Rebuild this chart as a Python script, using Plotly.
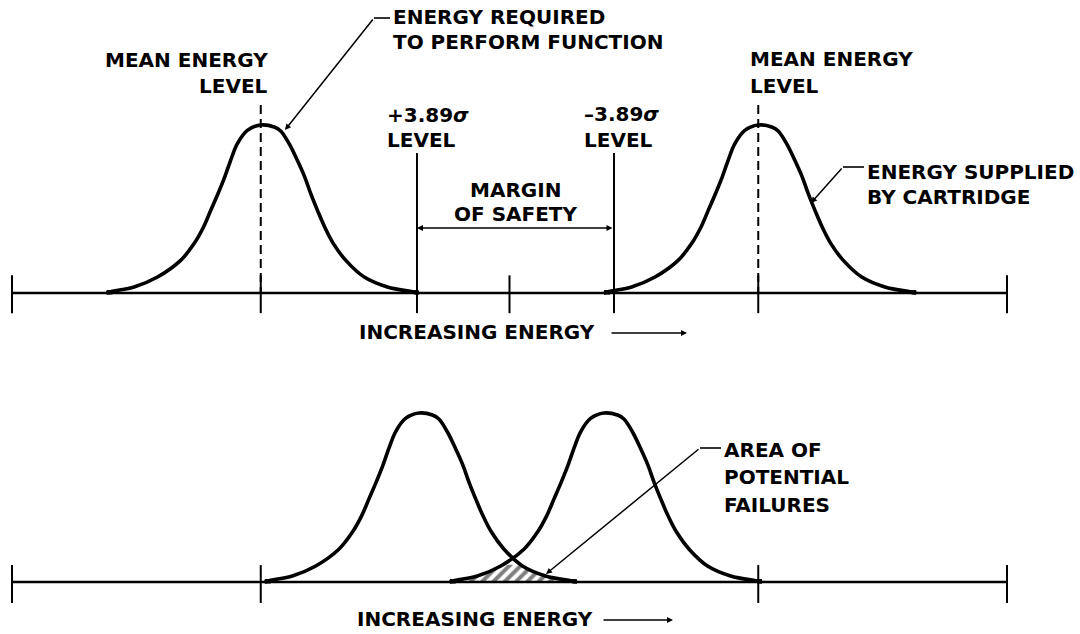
import plotly.graph_objects as go

W, H = 1080, 634

# ---------------- data ----------------
# common bell-curve outline (offset from mean in energy units, relative height)
SHAPE_OFFSET = [-0.62, -0.596, -0.509, -0.415, -0.322, -0.268, -0.230, -0.201, -0.172,
                -0.145, -0.121, -0.094, -0.054, 0.0, 0.054, 0.080, 0.114, 0.147, 0.177,
                0.201, 0.228, 0.257, 0.292, 0.342, 0.416, 0.509, 0.616, 0.635]
SHAPE_HEIGHT = [0.0, 0.010, 0.036, 0.095, 0.194, 0.294, 0.393, 0.492, 0.591,
                0.690, 0.790, 0.889, 0.968, 1.0, 0.988, 0.964, 0.889, 0.790, 0.690,
                0.591, 0.492, 0.393, 0.294, 0.194, 0.095, 0.036, 0.006, 0.0]

TOP_MEANS = [1.0, 3.0]          # energy required, energy supplied
BOTTOM_MEANS = [1.636, 2.38]    # overlapping case
SIGMA_LEVELS = [1.628, 2.42]    # +3.89 sigma / -3.89 sigma levels
TOP_TICKS = [0, 1, 2, 3, 4]
BOTTOM_TICKS = [0, 1, 3, 4]
AXIS_SPAN = [0, 4]

# ---------------- geometry helpers (layout only) ----------------
UNIT_PX, X0_PX = 248.75, 12
X_LO = -X0_PX / UNIT_PX
X_HI = X_LO + W / UNIT_PX
TOP_BASE_PX, TOP_PEAK_PX = 293, 168
BOT_BASE_PX, BOT_PEAK_PX = 582, 169
HALF = H / 2


def yt(p):  # pixel row -> top-panel y
    return (TOP_BASE_PX - p) / TOP_PEAK_PX


def yb(p):  # pixel row -> bottom-panel y
    return (BOT_BASE_PX - p) / BOT_PEAK_PX


def xd(px):
    return (px - X0_PX) / UNIT_PX


def px_paper(px, p):
    return px / W, 1 - p / H


BLACK = "black"
fig = go.Figure()


def add_line(xs, ys, panel, width=2.5, dash="solid", shape="linear"):
    fig.add_trace(go.Scatter(x=xs, y=ys, mode="lines", hoverinfo="skip",
                             line=dict(color=BLACK, width=width, dash=dash, shape=shape),
                             xaxis="x" if panel == 1 else "x2",
                             yaxis="y" if panel == 1 else "y2", showlegend=False))


def add_curve(mean, panel):
    xs = [mean + o for o in SHAPE_OFFSET]
    add_line(xs, SHAPE_HEIGHT, panel, width=3.6, shape="spline")
    # short heavy end-stubs where the curve meets the axis
    add_line(xs[:2], [0.004, 0.004], panel, width=4.5)
    add_line(xs[-2:], [0.004, 0.004], panel, width=4.5)


def add_ticks(ticks, panel, up, down, width=2):
    xs, ys = [], []
    for t in ticks:
        xs += [t, t, None]
        ys += [up, -down, None]
    add_line(xs, ys, panel, width=width)


# ---------------- top panel ----------------
add_line(AXIS_SPAN, [0, 0], 1, width=2.6)
add_ticks(TOP_TICKS, 1, 0.105, 0.12)
for m in TOP_MEANS:
    add_line([m, m], [yt(105), 0], 1, width=2, dash="9px,5px")
for s in SIGMA_LEVELS:
    add_line([s, s], [yt(153), -0.12], 1, width=2)
for m in TOP_MEANS:
    add_curve(m, 1)

# ---------------- bottom panel ----------------
add_line(AXIS_SPAN, [0, 0], 2, width=2.6)
add_ticks(BOTTOM_TICKS, 2, 0.10, 0.124)

mA, mB = BOTTOM_MEANS
cross = (mA + mB) / 2
hx, hy = [], []
for o, h in zip(SHAPE_OFFSET, SHAPE_HEIGHT):
    if o < 0 and mB + o < cross:
        hx.append(mB + o); hy.append(h)
for o, h in zip(SHAPE_OFFSET, SHAPE_HEIGHT):
    if o > 0 and mA + o > cross:
        hx.append(mA + o); hy.append(h)
fig.add_trace(go.Scatter(x=hx, y=hy, mode="lines", fill="tozeroy", hoverinfo="skip",
                         line=dict(width=0, color=BLACK, shape="spline"),
                         fillcolor="rgba(0,0,0,0)",
                         fillpattern=dict(shape="/", size=8, solidity=0.5,
                                          fgcolor=BLACK, bgcolor="rgba(0,0,0,0)"),
                         xaxis="x2", yaxis="y2", showlegend=False))
for m in BOTTOM_MEANS:
    add_curve(m, 2)

# ---------------- text ----------------
FONT = dict(family="DejaVu Sans", size=20, color=BLACK, weight="bold")
ann = []


def label(text, px, p, anchor="left"):
    x, y = px_paper(px, p)
    ann.append(dict(text=text, x=x, y=y, xref="paper", yref="paper", xanchor=anchor,
                    yanchor="middle", showarrow=False, font=FONT, borderpad=0))


label("ENERGY REQUIRED", 392, 17)
label("TO PERFORM FUNCTION", 392, 42)
label("MEAN ENERGY", 269, 60, "right")
label("LEVEL", 269, 86, "right")
label("MEAN ENERGY", 749, 59)
label("LEVEL", 749, 86)
label("+3.89<i>σ</i>", 386, 115)
label("LEVEL", 386, 140)
label("\u20133.89<i>σ</i>", 583, 114)
label("LEVEL", 583, 140)
label("MARGIN", 515, 190, "center")
label("OF SAFETY", 515, 214, "center")
label("ENERGY SUPPLIED", 866, 172)
label("BY CARTRIDGE", 866, 197)
label("INCREASING ENERGY", 358, 332)
label("AREA OF", 723, 450)
label("POTENTIAL", 723, 477)
label("FAILURES", 723, 505)
label("INCREASING ENERGY", 356, 619)

ARROW = dict(showarrow=True, arrowhead=2, arrowsize=0.8, arrowwidth=1.5,
             arrowcolor=BLACK, text="", standoff=0, startstandoff=0)

# "increasing energy" arrows (paper refs, pixel offsets)
for px_end, p, length in [(687, 333, 77), (673, 620, 71)]:
    x, y = px_paper(px_end, p)
    ann.append(dict(x=x, y=y, xref="paper", yref="paper", ax=-length, ay=0, **ARROW))

# margin of safety double arrow
ann.append(dict(x=SIGMA_LEVELS[0], y=yt(228), ax=SIGMA_LEVELS[1], ay=yt(228),
                xref="x", yref="y", axref="x", ayref="y", arrowside="end+start", **ARROW))

# leader lines
shapes = []
leaders = [
    # elbow(px,p), text start px, target(px,p), panel
    ((374, 18), 390, (285, 130), 1),
    ((843, 167), 864, (811, 203), 1),
    ((700, 448), 721, (546, 574), 2),
]
for (ex, ep), tx, (gx, gp), panel in leaders:
    conv = yt if panel == 1 else yb
    xr, yr = ("x", "y") if panel == 1 else ("x2", "y2")
    ann.append(dict(x=xd(gx), y=conv(gp), ax=xd(ex), ay=conv(ep), xref=xr, yref=yr,
                    axref=xr, ayref=yr, **ARROW))
    shapes.append(dict(type="line", x0=xd(ex), x1=xd(tx), y0=conv(ep), y1=conv(ep),
                       xref=xr, yref=yr, line=dict(color=BLACK, width=1.6)))

axis_common = dict(visible=False, showgrid=False, zeroline=False, fixedrange=True)
fig.update_layout(
    width=W, height=H, margin=dict(l=0, r=0, t=0, b=0),
    paper_bgcolor="white", plot_bgcolor="white", showlegend=False,
    xaxis=dict(domain=[0, 1], range=[X_LO, X_HI], anchor="y", **axis_common),
    yaxis=dict(domain=[0.5, 1], range=[yt(HALF), yt(0)], anchor="x", **axis_common),
    xaxis2=dict(domain=[0, 1], range=[X_LO, X_HI], anchor="y2", **axis_common),
    yaxis2=dict(domain=[0, 0.5], range=[yb(H), yb(HALF)], anchor="x2", **axis_common),
    annotations=ann, shapes=shapes,
)

fig.write_html("out.html", config={"displayModeBar": False},
               post_script="document.body.style.margin='0';document.body.style.overflow='hidden';")
